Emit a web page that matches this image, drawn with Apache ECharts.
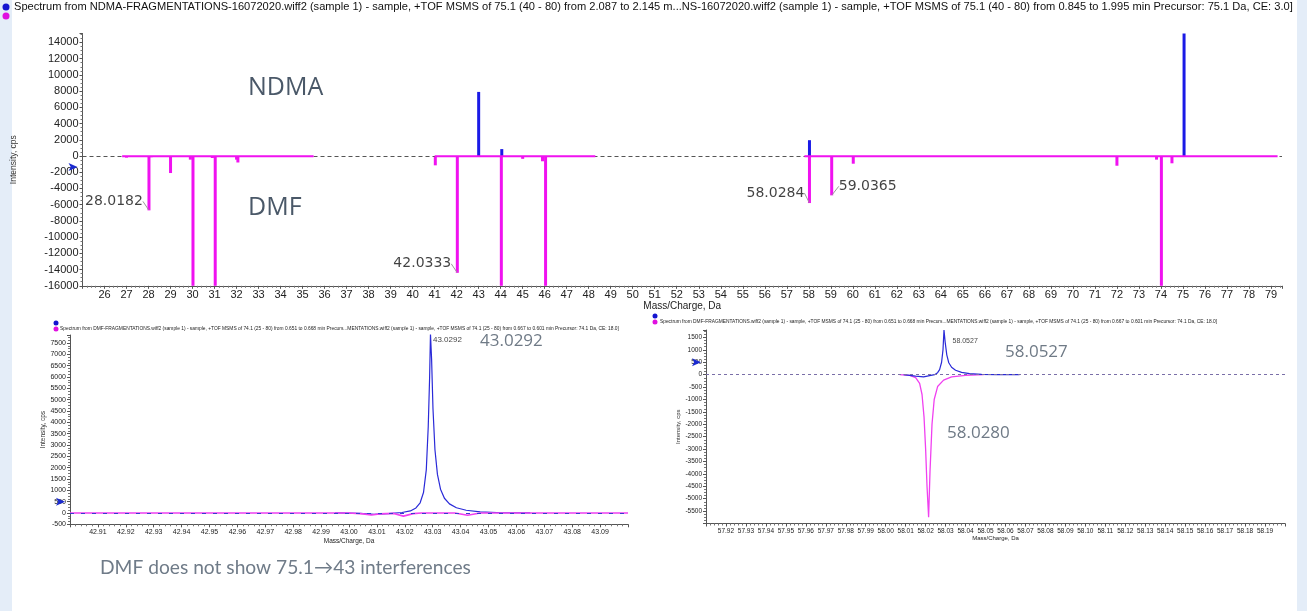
<!DOCTYPE html>
<html>
<head>
<meta charset="utf-8">
<title>NDMA / DMF spectra</title>
<script src="https://cdn.jsdelivr.net/npm/echarts@6/dist/echarts.min.js"></script>
<style>
html, body { margin: 0; padding: 0; background: #fff; }
#echarts_box { width: 1307px; height: 611px; }
</style>
</head>
<body>
<div id="echarts_box"></div>
<script>
/* top: stick spectra, NDMA up, DMF mirrored down */
var ndmaMz = [43.0, 44.05, 58.03, 75.05];
var ndmaInt = [7900, 850, 1950, 16000];
var dmfMz = [27.0, 28.02, 28.12, 29.0, 29.9, 30.02, 30.9, 31.03, 32.0, 32.06, 41.03, 42.03, 44.03, 45.0, 45.9, 46.04, 46.3, 58.03, 59.04, 60.02, 72.0, 73.8, 74.02, 74.5];
var dmfInt = [-200, -6700, -150, -2100, -450, -17000, -250, -17000, -450, -800, -1150, -14400, -17000, -350, -650, -17000, -100, -5800, -4850, -950, -1200, -450, -17000, -900];
/* pink noise along the zero line (segments) */
var dmfBaseMz = [26.8, 35.5, 35.6, 41.0, 48.3, 48.4, 57.8, 79.3];
var dmfBaseInt = [-40, -40, '-', -40, -40, '-', -40, -40];
var peakMz = [28.02, 42.03, 58.03, 59.04];
var peakInt = [-6700, -14400, -5800, -4850];
var peakText = ['28.0182', '42.0333', '58.0284', '59.0365'];

/* bottom left: profile around m/z 43 */
var leftBlueMz = [42.995, 43.004, 43.009, 43.014, 43.019, 43.022, 43.024, 43.0255, 43.0267, 43.0277, 43.0284, 43.0289, 43.0292, 43.0296, 43.0301, 43.0308, 43.0317, 43.0328, 43.0342, 43.036, 43.0385, 43.042, 43.047, 43.055, 43.065];
var leftBlueInt = [0, -20, -60, -30, 20, 90, 220, 450, 900, 1900, 3800, 6000, 7900, 6800, 4600, 2800, 1700, 1050, 650, 400, 230, 120, 50, 10, 0];
var leftPinkMz = [42.90, 43.000, 43.005, 43.008, 43.011, 43.016, 43.0195, 43.023, 43.026, 43.038, 43.0425, 43.047, 43.10];
var leftPinkInt = [0, 0, -40, -90, -40, -20, -140, -30, 0, 0, -100, 0, 0];
var leftPeakText = '43.0292';

/* bottom right: profile around m/z 58 */
var rightPinkMz = [58.007, 58.012, 58.015, 58.017, 58.0182, 58.0192, 58.020, 58.0207, 58.0215, 58.0222, 58.0232, 58.0243, 58.026, 58.029, 58.033, 58.040, 58.049];
var rightPinkInt = [0, -30, -120, -350, -800, -1700, -3000, -4500, -5750, -3900, -2000, -1000, -480, -220, -90, -25, 0];
var rightBlueMz = [58.009, 58.015, 58.019, 58.022, 58.0245, 58.026, 58.027, 58.028, 58.0287, 58.0292, 58.0298, 58.0306, 58.0316, 58.033, 58.035, 58.038, 58.042, 58.048, 58.056, 58.067];
var rightBlueInt = [0, -60, -90, -40, 0, 80, 200, 500, 1000, 1800, 1300, 800, 480, 300, 180, 90, 40, 15, 0, 0];
var rightPeakText = '58.0527';

/* axis extents and tick steps */
var topX = [25, 79.5, 1];
var topY = [-16000, 15100, 2000];
var leftX = [42.90, 43.10, 0.01];
var leftY = [-500, 7850, 500];
var rightX = [57.91, 58.20, 0.01];
var rightY = [-6000, 1800, 500];

var BLUE = '#1a1ae6';
var PINK = '#f012f0';
var FONT = 'Liberation Sans, Arial, sans-serif';

function pairs(xs, ys) {
	var out = [];
	for(var i = 0; i < xs.length; i++) {
		out.push([xs[i], ys[i]]);
	}
	return out;
}

function xAxisOf(idx, ext, fs, gap, nameFs, fixed) {
	return {
		type: 'value', gridIndex: idx, min: ext[0], max: ext[1], interval: ext[2],
		name: 'Mass/Charge, Da', nameLocation: 'middle', nameGap: gap,
		nameTextStyle: { fontSize: nameFs, color: '#222', fontFamily: FONT },
		axisLine: { onZero: false, lineStyle: { color: '#555', width: 1 } },
		axisTick: { length: 3, lineStyle: { color: '#555' } },
		minorTick: { show: true, splitNumber: 5, length: 2, lineStyle: { color: '#777' } },
		splitLine: { show: false },
		axisLabel: {
			fontSize: fs, color: '#222', fontFamily: FONT, margin: 4,
			showMinLabel: false, showMaxLabel: false,
			formatter: function(v) { return fixed ? v.toFixed(2) : String(Math.round(v)); }
		}
	};
}

function yAxisOf(idx, ext, fs, gap, nameFs, hideMin) {
	return {
		type: 'value', gridIndex: idx, min: ext[0], max: ext[1], interval: ext[2],
		name: 'Intensity, cps', nameLocation: 'middle', nameGap: gap,
		nameTextStyle: { fontSize: nameFs, color: '#333', fontFamily: 'Liberation Sans Narrow, Liberation Sans, sans-serif' },
		axisLine: { show: true, lineStyle: { color: '#555', width: 1 } },
		axisTick: { show: true, length: 3, lineStyle: { color: '#555' } },
		minorTick: { show: true, splitNumber: 4, length: 2, lineStyle: { color: '#777' } },
		splitLine: { show: false },
		axisLabel: {
			fontSize: fs, color: '#222', fontFamily: FONT, margin: 4,
			showMinLabel: !hideMin, showMaxLabel: false,
			formatter: function(v) { return (v % ext[2] === 0) ? String(v) : ''; }
		}
	};
}

function arrowMark(x, y) {
	return {
		symbol: 'arrow', symbolSize: [6, 9], symbolRotate: -90, symbolOffset: [-5, 0],
		itemStyle: { color: '#1a2ad0' }, label: { show: false },
		data: [{ coord: [x, y] }]
	};
}

/* label shift (px) of each annotated stick, from its tip */
var labelShift = [[-35, -9], [-35, -9], [-34, -10], [36, -9]];

var myChart = echarts.init(document.getElementById('echarts_box'));

var bigText = { fill: '#6f7a86', fontSize: 17, fontFamily: 'Open Sans, sans-serif' };

var option = {
	backgroundColor: '#fff',
	animation: false,
	grid: [
		{ left: 82.5, right: 25, top: 33.5, bottom: 325.2 },
		{ left: 70, right: 679, top: 335, bottom: 86.7 },
		{ left: 706, right: 22, top: 330, bottom: 87.5 }
	],
	xAxis: [
		xAxisOf(0, topX, 11, 15, 10, false),
		xAxisOf(1, leftX, 7, 13, 6.5, true),
		xAxisOf(2, rightX, 6.5, 12, 6, true)
	],
	yAxis: [
		yAxisOf(0, topY, 11, 64, 8.5, false),
		yAxisOf(1, leftY, 7, 22, 6.5, false),
		yAxisOf(2, rightY, 6.5, 24, 6, true)
	],
	series: [
		{
			name: 'NDMA', type: 'bar', xAxisIndex: 0, yAxisIndex: 0,
			data: pairs(ndmaMz, ndmaInt), barWidth: 3, barGap: '-100%',
			itemStyle: { color: BLUE }, clip: true,
			markLine: {
				silent: true, symbol: 'none', label: { show: false },
				lineStyle: { color: '#555', type: [4, 3], width: 1 },
				data: [{ yAxis: 0 }]
			},
			markPoint: arrowMark(topX[0], -1350)
		},
		{
			name: 'DMF', type: 'bar', xAxisIndex: 0, yAxisIndex: 0,
			data: pairs(dmfMz, dmfInt), barWidth: 3, barGap: '-100%',
			itemStyle: { color: PINK }, clip: true
		},
		{
			name: 'DMF base', type: 'line', xAxisIndex: 0, yAxisIndex: 0, z: 10,
			data: pairs(dmfBaseMz, dmfBaseInt), showSymbol: false, connectNulls: false,
			lineStyle: { color: PINK, width: 2 }, silent: true
		},
		{
			name: 'peaks', type: 'scatter', xAxisIndex: 0, yAxisIndex: 0, z: 12,
			data: pairs(peakMz, peakInt), symbolSize: 1, itemStyle: { color: 'rgba(0,0,0,0)' },
			label: {
				show: true, position: 'inside',
				formatter: function(p) { return peakText[p.dataIndex]; },
				fontSize: 14, color: '#111', fontFamily: 'DejaVu Sans, sans-serif'
			},
			labelLayout: function(p) {
				var s = labelShift[p.dataIndex];
				return { dx: s[0], dy: s[1] };
			},
			labelLine: { show: true, length2: 0, lineStyle: { color: '#999', width: 1 } }
		},
		/* bottom left */
		{
			name: 'NDMA 43', type: 'line', xAxisIndex: 1, yAxisIndex: 1,
			data: pairs(leftBlueMz, leftBlueInt), showSymbol: false,
			lineStyle: { color: '#2a2ad8', width: 1.2 },
			markPoint: arrowMark(leftX[0], 500)
		},
		{
			name: 'DMF 43', type: 'line', xAxisIndex: 1, yAxisIndex: 1, z: 3,
			data: pairs(leftPinkMz, leftPinkInt), showSymbol: false,
			lineStyle: { color: '#f040f0', width: 1.6 },
			markLine: {
				silent: true, symbol: 'none', label: { show: false },
				lineStyle: { color: '#3a3ad0', type: [4, 7], width: 1.2 },
				data: [{ yAxis: 0 }]
			}
		},
		{
			name: 'label 43', type: 'scatter', xAxisIndex: 1, yAxisIndex: 1,
			data: [[leftBlueMz[12], 7650]], symbolSize: 1, itemStyle: { color: 'rgba(0,0,0,0)' },
			label: { show: true, position: 'right', distance: 2, formatter: leftPeakText, fontSize: 8, color: '#111', fontFamily: FONT }
		},
		/* bottom right */
		{
			name: 'DMF 58', type: 'line', xAxisIndex: 2, yAxisIndex: 2, z: 3,
			data: pairs(rightPinkMz, rightPinkInt), showSymbol: false,
			lineStyle: { color: '#f040f0', width: 1.3 },
			markLine: {
				silent: true, symbol: 'none', label: { show: false },
				lineStyle: { color: '#7a6fa8', type: [3, 3], width: 1 },
				data: [{ yAxis: 0 }]
			},
			markPoint: arrowMark(rightX[0], 500)
		},
		{
			name: 'NDMA 58', type: 'line', xAxisIndex: 2, yAxisIndex: 2, z: 4,
			data: pairs(rightBlueMz, rightBlueInt), showSymbol: false,
			lineStyle: { color: '#2a2ad8', width: 1.2 }
		},
		{
			name: 'label 58', type: 'scatter', xAxisIndex: 2, yAxisIndex: 2,
			data: [[rightBlueMz[9], 1350]], symbolSize: 1, itemStyle: { color: 'rgba(0,0,0,0)' },
			label: { show: true, position: 'right', distance: 8, formatter: rightPeakText, fontSize: 7, color: '#111', fontFamily: FONT }
		}
	],
	graphic: [
		{ type: 'rect', shape: { x: 0, y: 0, width: 12, height: 611 }, style: { fill: '#e4edf8' }, silent: true },
		{ type: 'rect', shape: { x: 1297, y: 0, width: 10, height: 611 }, style: { fill: '#e4edf8' }, silent: true },
		/* legend dots + titles */
		{ type: 'circle', shape: { cx: 6, cy: 7, r: 3.5 }, style: { fill: '#1414d0' } },
		{ type: 'circle', shape: { cx: 6, cy: 16, r: 3.5 }, style: { fill: '#e010e0' } },
		{ type: 'text', x: 14, y: 7, style: { text: 'Spectrum from NDMA-FRAGMENTATIONS-16072020.wiff2 (sample 1) - sample, +TOF MSMS of 75.1 (40 - 80) from 2.087 to 2.145 m...NS-16072020.wiff2 (sample 1) - sample, +TOF MSMS of 75.1 (40 - 80) from 0.845 to 1.995 min Precursor: 75.1 Da, CE: 3.0]', fill: '#111', fontSize: 11.1, fontFamily: FONT, verticalAlign: 'middle' } },
		{ type: 'circle', shape: { cx: 56, cy: 323, r: 2.5 }, style: { fill: '#1414d0' } },
		{ type: 'circle', shape: { cx: 56, cy: 329, r: 2.5 }, style: { fill: '#e010e0' } },
		{ type: 'text', x: 60, y: 329, style: { text: 'Spectrum from DMF-FRAGMENTATIONS.wiff2 (sample 1) - sample, +TOF MSMS of 74.1 (25 - 80) from 0.651 to 0.668 min Precurs...MENTATIONS.wiff2 (sample 1) - sample, +TOF MSMS of 74.1 (25 - 80) from 0.667 to 0.601 min Precursor: 74.1 Da, CE: 18.0]', fill: '#222', fontSize: 4.87, fontFamily: FONT, verticalAlign: 'middle' } },
		{ type: 'circle', shape: { cx: 655, cy: 316, r: 2.5 }, style: { fill: '#1414d0' } },
		{ type: 'circle', shape: { cx: 655, cy: 322, r: 2.5 }, style: { fill: '#e010e0' } },
		{ type: 'text', x: 660, y: 322, style: { text: 'Spectrum from DMF-FRAGMENTATIONS.wiff2 (sample 1) - sample, +TOF MSMS of 74.1 (25 - 80) from 0.651 to 0.668 min Precurs...MENTATIONS.wiff2 (sample 1) - sample, +TOF MSMS of 74.1 (25 - 80) from 0.667 to 0.601 min Precursor: 74.1 Da, CE: 18.0]', fill: '#222', fontSize: 4.85, fontFamily: FONT, verticalAlign: 'middle' } },
		/* slide annotations */
		{ type: 'text', x: 248, y: 88, style: { text: 'NDMA', fill: '#4a5868', fontSize: 25, fontFamily: 'Open Sans, sans-serif', verticalAlign: 'middle' } },
		{ type: 'text', x: 248, y: 208, style: { text: 'DMF', fill: '#4a5868', fontSize: 25, fontFamily: 'Open Sans, sans-serif', verticalAlign: 'middle' } },
		{ type: 'text', x: 480, y: 341, style: echarts.util.extend({ text: '43.0292', verticalAlign: 'middle' }, bigText) },
		{ type: 'text', x: 1005, y: 352, style: echarts.util.extend({ text: '58.0527', verticalAlign: 'middle' }, bigText) },
		{ type: 'text', x: 947, y: 433, style: echarts.util.extend({ text: '58.0280', verticalAlign: 'middle' }, bigText) },
		{ type: 'text', x: 100, y: 568, style: { text: 'DMF does not show 75.1\u219243 interferences', fill: '#6f7b88', fontSize: 19.2, fontFamily: 'Lato, Open Sans, sans-serif', verticalAlign: 'middle' } }
	]
};

myChart.setOption(option);
</script>
</body>
</html>
